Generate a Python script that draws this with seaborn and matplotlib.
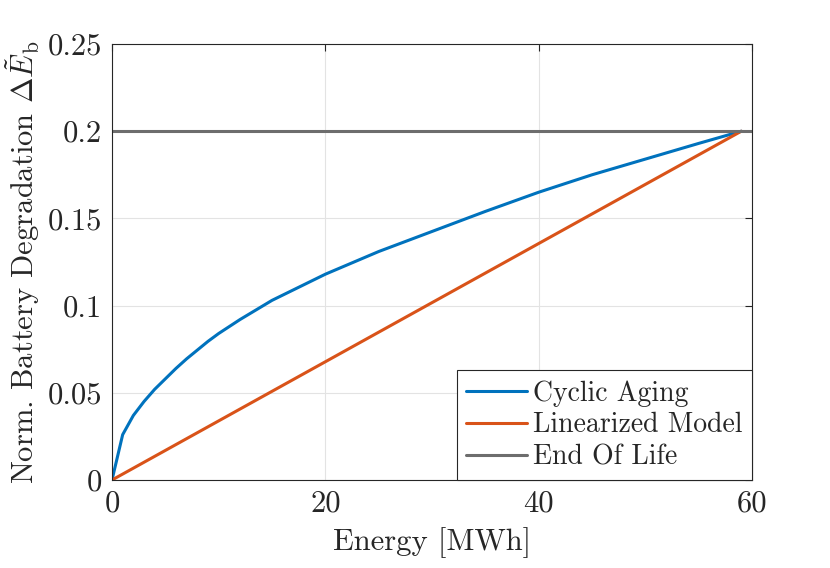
import numpy as np
import pandas as pd
import seaborn as sns
import matplotlib.pyplot as plt

# data
energy = [0, 1, 2, 3, 4, 5, 6, 7, 8, 9, 10, 12, 15, 20, 25, 30, 35, 40, 45, 50, 55, 59]
cyclic = [0, 0.026, 0.037, 0.045, 0.052, 0.058, 0.064, 0.0695, 0.0745, 0.0795, 0.084, 0.092,
          0.103, 0.118, 0.131, 0.1425, 0.154, 0.165, 0.175, 0.184, 0.193, 0.200]
lin_energy = [0, 59]
lin_deg = [0, 0.2]
eol_energy = [0, 60]
eol_deg = [0.2, 0.2]

df = pd.concat([
    pd.DataFrame({"Energy": energy, "Deg": cyclic, "Series": "Cyclic Aging"}),
    pd.DataFrame({"Energy": lin_energy, "Deg": lin_deg, "Series": "Linearized Model"}),
    pd.DataFrame({"Energy": eol_energy, "Deg": eol_deg, "Series": "End Of Life"}),
])

sns.set_style("whitegrid")
plt.rcParams['font.family'] = ['cmr10', 'DejaVu Serif']
plt.rcParams['mathtext.fontset'] = 'cm'
plt.rcParams['axes.formatter.use_mathtext'] = True

palette = {"Cyclic Aging": "#0072BD", "Linearized Model": "#D95319", "End Of Life": "#6d6d6d"}

fig = plt.figure(figsize=(8.3, 5.68), dpi=100)
ax = fig.add_axes([112/830, 1-480/568, 640/830, 436/568])
sns.lineplot(data=df, x="Energy", y="Deg", hue="Series", palette=palette,
             linewidth=2.2, ax=ax, sort=False, estimator=None)

ax.set_xlim(0, 60)
ax.set_ylim(0, 0.25)
ax.set_xticks([0, 20, 40, 60])
ax.set_yticks([0, 0.05, 0.1, 0.15, 0.2, 0.25])
ax.set_yticklabels(["0", "0.05", "0.1", "0.15", "0.2", "0.25"])
ax.set_xticklabels(["0", "20", "40", "60"])
ax.tick_params(direction="in", length=5, width=0.8, colors="#262626", labelsize=22,
               top=True, right=True, pad=7)
for s in ax.spines.values():
    s.set_color("#262626")
    s.set_linewidth(0.8)
ax.grid(True, color="#e3e3e3", linewidth=0.8)
ax.set_xlabel("Energy [MWh]", fontsize=22, color="#262626", labelpad=7)
ax.set_ylabel(r"Norm. Battery Degradation $\Delta\tilde{E}_\mathrm{b}$", fontsize=22,
              color="#262626", labelpad=4)

leg = ax.legend(loc="lower right", borderaxespad=0, fontsize=20, fancybox=False,
                framealpha=1, edgecolor="#262626", handlelength=2.2, handletextpad=0.2,
                borderpad=0.35, labelspacing=0.2)
leg.get_frame().set_linewidth(0.8)

fig.savefig("out.png", dpi=100)
